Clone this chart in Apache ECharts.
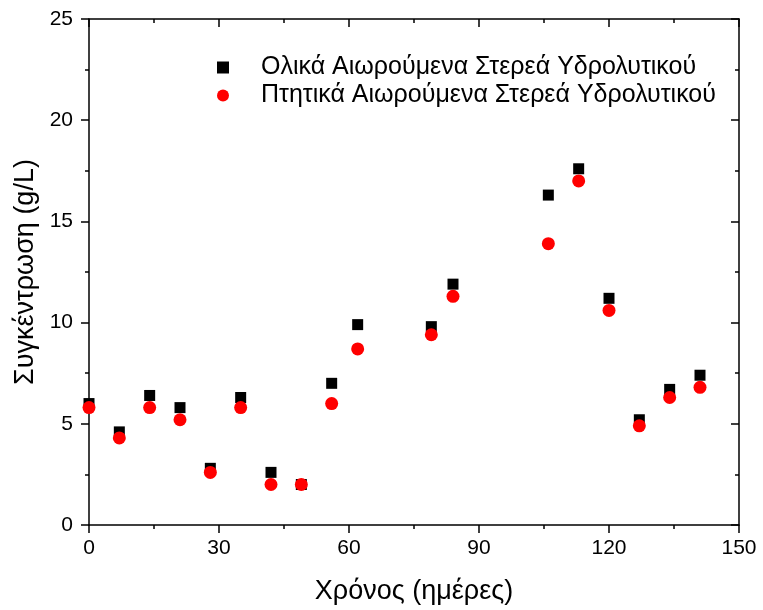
<!DOCTYPE html>
<html>
<head>
<meta charset="utf-8">
<script src="https://cdn.jsdelivr.net/npm/echarts@6/dist/echarts.min.js"></script>
<style>
  html, body { margin: 0; padding: 0; background: #fff; }
  #main { width: 763px; height: 610px; }
</style>
</head>
<body>
<div id="main"></div>
<script>
// δεδομένα
var days = [0, 7, 14, 21, 28, 35, 42, 49, 56, 62, 79, 84, 106, 113, 120, 127, 134, 141];
var tss = [6.0, 4.6, 6.4, 5.8, 2.8, 6.3, 2.6, 2.0, 7.0, 9.9, 9.8, 11.9, 16.3, 17.6, 11.2, 5.2, 6.7, 7.4];
var vss = [5.8, 4.3, 5.8, 5.2, 2.6, 5.8, 2.0, 2.0, 6.0, 8.7, 9.4, 11.3, 13.9, 17.0, 10.6, 4.9, 6.3, 6.8];
var seriesNames = ['Ολικά Αιωρούμενα Στερεά Υδρολυτικού', 'Πτητικά Αιωρούμενα Στερεά Υδρολυτικού'];
var xName = 'Χρόνος (ημέρες)';
var yName = 'Συγκέντρωση (g/L)';

function pairs(xs, ys) {
  return xs.map(function (x, i) { return [x, ys[i]]; });
}

var font = 'Liberation Sans, Arial, sans-serif';
var black = { color: '#000', width: 1.5 };
// άξονας: κάτω/αριστερά με ετικέτες, πάνω/δεξιά μόνο γραμμή (κουτί)
function axis(opts, mirror) {
  var a = {
    type: 'value',
    axisLine: { show: true, onZero: false, lineStyle: black },
    axisTick: { show: true, inside: mirror, length: 8, lineStyle: black },
    minorTick: { show: true, splitNumber: 2, length: 4, lineStyle: black },
    splitLine: { show: false },
    axisLabel: { show: !mirror, fontSize: 21, color: '#000', fontFamily: font }
  };
  for (var k in opts) a[k] = opts[k];
  return a;
}

var chart = echarts.init(document.getElementById('main'));
var option = {
  animation: false,
  textStyle: { fontFamily: font },
  grid: { left: 89, right: 24, top: 19, bottom: 83, containLabel: false },
  legend: {
    orient: 'vertical',
    left: 212,
    top: 50,
    itemWidth: 12,
    itemHeight: 12,
    itemGap: 3,
    textStyle: { fontSize: 25, lineHeight: 25, color: '#000', fontFamily: font, padding: [0, 0, 0, 27] },
    data: [
      { name: seriesNames[0], icon: 'rect' },
      { name: seriesNames[1], icon: 'circle' }
    ]
  },
  xAxis: [
    axis({
      min: 0, max: 150, interval: 30, position: 'bottom',
      name: xName, nameLocation: 'middle', nameGap: 53,
      nameTextStyle: { fontSize: 27, color: '#000', fontFamily: font },
      axisLabel: { fontSize: 21, color: '#000', margin: 13, fontFamily: font }
    }, false),
    axis({ min: 0, max: 150, interval: 30, position: 'top' }, true)
  ],
  yAxis: [
    axis({
      min: 0, max: 25, interval: 5, position: 'left',
      name: yName, nameLocation: 'middle', nameGap: 44,
      nameTextStyle: { fontSize: 27, color: '#000', fontFamily: font },
      axisLabel: { fontSize: 21, color: '#000', margin: 16, fontFamily: font }
    }, false),
    axis({ min: 0, max: 25, interval: 5, position: 'right' }, true)
  ],
  series: [{
    name: seriesNames[0],
    type: 'scatter',
    symbol: 'rect',
    symbolSize: 11,
    itemStyle: { color: '#000', opacity: 1 },
    data: pairs(days, tss)
  }, {
    name: seriesNames[1],
    type: 'scatter',
    symbol: 'circle',
    symbolSize: 13,
    itemStyle: { color: '#ff0000', opacity: 1 },
    data: pairs(days, vss)
  }]
};
chart.setOption(option);
</script>
</body>
</html>
